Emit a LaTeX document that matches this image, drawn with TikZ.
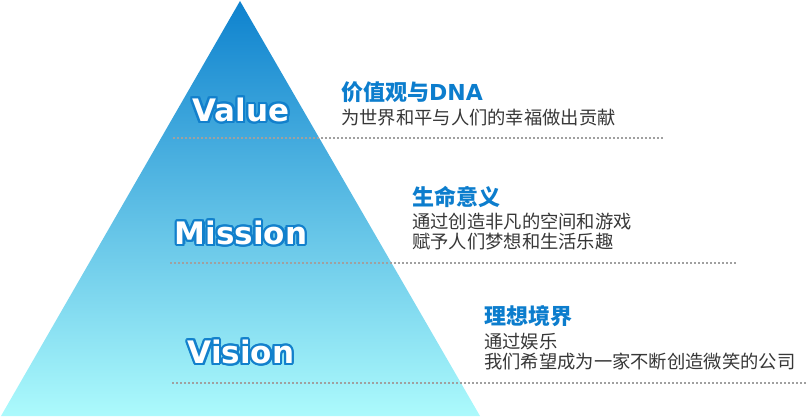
\documentclass[tikz,border=0pt]{standalone}
\usepackage{fontspec}
\setmainfont{DejaVu Sans}
\newfontfamily\cjk{Noto Sans CJK SC}
\usepackage{contour}
\contourlength{2.2pt}
\contournumber{16}
\usetikzlibrary{positioning}

\definecolor{apexblue}{RGB}{14,130,206}
\definecolor{midblue}{RGB}{95,187,230}
\definecolor{baseblue}{RGB}{172,250,252}
\definecolor{outblue}{RGB}{18,128,204}
\definecolor{headblue}{RGB}{12,125,205}
\definecolor{bodygray}{RGB}{55,55,55}
\definecolor{dotgray}{RGB}{160,160,160}

\begin{document}
\begin{tikzpicture}[x=1pt,y=-1pt,
    level/.style={inner sep=0pt, text=white, font=\fontsize{31}{31}\selectfont\bfseries},
    heading/.style={anchor=west, inner sep=0pt, text=headblue, font=\cjk\fontsize{22}{22}\selectfont\bfseries},
    body/.style={anchor=west, inner sep=0pt, text=bodygray, font=\cjk\fontsize{18.3}{19}\selectfont},
    guide/.style={draw=dotgray, line width=1.5pt, dash pattern=on 1.5pt off 2.5pt}]
  \useasboundingbox (0,0) rectangle (806,417);
  % pyramid corners
  \coordinate (apex) at (240,1);
  \coordinate (baseL) at (1,416);
  \coordinate (baseR) at (480,416);
  \shade[top color=apexblue, middle color=midblue, bottom color=baseblue]
    (apex) -- (baseR) -- (baseL) -- cycle;
  % dotted guide lines
  \coordinate (g1a) at (173,138); \coordinate (g1b) at (663,138);
  \coordinate (g2a) at (170,263); \coordinate (g2b) at (737,263);
  \coordinate (g3a) at (172,383); \coordinate (g3b) at (806,383);
  \draw[guide] (g1a) -- (g1b);
  \draw[guide] (g2a) -- (g2b);
  \draw[guide] (g3a) -- (g3b);
  % levels, white letters with a blue rim
  \node[level] (value) at (241,111) {\contour{outblue}{Value}};
  \node[level] (mission) at (241,234) {\contour{outblue}{Mission}};
  \node[level] (vision) at (241,353) {\contour{outblue}{Vision}};
  % texts on the right
  \node[heading] (h1) at (341,92) {价值观与{\rmfamily DNA}};
  \node[body] (b1) at (341,118) {为世界和平与人们的幸福做出贡献};
  \node[heading] (h2) at (412,197) {生命意义};
  \node[body] (b2) at (412,222) {通过创造非凡的空间和游戏};
  \node[body] (b3) at (412,242) {赋予人们梦想和生活乐趣};
  \node[heading] (h3) at (484,316) {理想境界};
  \node[body] (b4) at (484,342) {通过娱乐};
  \node[body] (b5) at (484,362) {我们希望成为一家不断创造微笑的公司};
\end{tikzpicture}
\end{document}
